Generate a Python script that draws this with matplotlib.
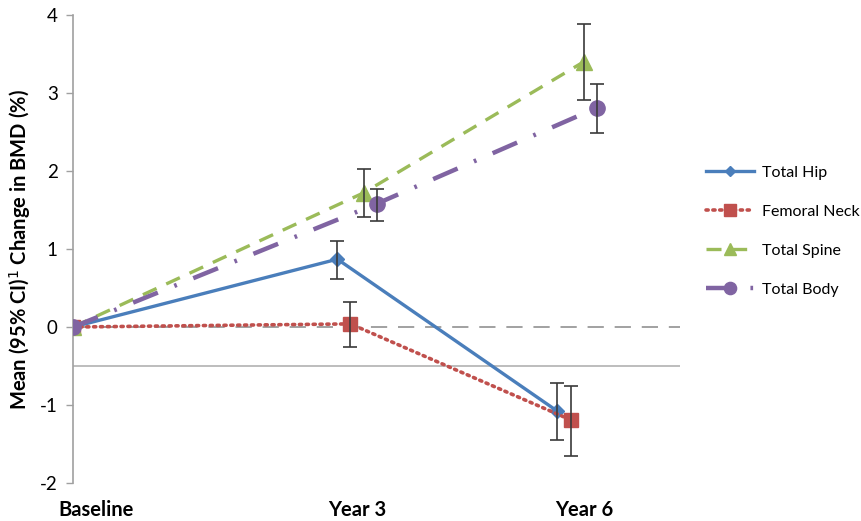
import numpy as np
import matplotlib
matplotlib.use('Agg')
import matplotlib.pyplot as plt

plt.rcParams['font.family'] = ['Lato', 'DejaVu Sans']

# Data
timepoints = ['Baseline', 'Year 3', 'Year 6']
series = ['Total Hip', 'Femoral Neck', 'Total Spine', 'Total Body']

hip_mean = [0.0, 0.87, -1.08]
hip_lo = [0.0, 0.61, -1.45]
hip_hi = [0.0, 1.10, -0.72]

neck_mean = [0.0, 0.04, -1.19]
neck_lo = [0.0, -0.26, -1.65]
neck_hi = [0.0, 0.32, -0.76]

spine_mean = [0.0, 1.72, 3.40]
spine_lo = [0.0, 1.41, 2.91]
spine_hi = [0.0, 2.03, 3.88]

body_mean = [0.0, 1.58, 2.81]
body_lo = [0.0, 1.36, 2.49]
body_hi = [0.0, 1.77, 3.12]

# category positions on the x axis (year 6 sits a bit closer than year 3)
cat_pos = np.array([0.0, 1.0, 1.775])
label_pos = [0.08, 1.0, 1.80]
offsets = [-0.069, -0.023, 0.023, 0.069]

fig = plt.figure(figsize=(8.62, 5.21), dpi=100)
ax = fig.add_axes([0.0847, 0.073, 0.704, 0.898])

colors = ['#4A7EBB', '#C0504D', '#9BBB59', '#8064A2']
styles = [
    dict(ls='-', lw=2.4, marker='D', ms=7),
    dict(ls=(0, (0.6, 1.3)), lw=2.6, marker='s', ms=10, dash_capstyle='round'),
    dict(ls=(0, (4.5, 3.2)), lw=2.4, marker='^', ms=11),
    dict(ls=(0, (6, 4, 0.6, 4)), lw=3.2, marker='o', ms=11),
]
means = [hip_mean, neck_mean, spine_mean, body_mean]
lows = [hip_lo, neck_lo, spine_lo, body_lo]
highs = [hip_hi, neck_hi, spine_hi, body_hi]

# reference lines
ax.axhline(0, color='#9a9a9a', lw=1.3, ls=(0, (9, 6)), zorder=1)
ax.axhline(-0.5, color='#bdbdbd', lw=1.4, zorder=1)

for i in range(4):
    x = cat_pos.copy()
    x[1:] += offsets[i]
    m = np.array(means[i])
    lo = np.array(lows[i])
    hi = np.array(highs[i])
    ax.plot(x, m, color=colors[i], label=series[i], zorder=3,
            markeredgecolor=colors[i], **styles[i])
    ax.errorbar(x[1:], m[1:], yerr=[m[1:] - lo[1:], hi[1:] - m[1:]],
                fmt='none', ecolor='#3a3a3a', elinewidth=1.2, capsize=5,
                capthick=1.2, zorder=4)

ax.set_xlim(0, 2.137)
ax.set_ylim(-2, 4)
ax.set_yticks([-2, -1, 0, 1, 2, 3, 4])
ax.set_yticklabels(['-2', '-1', '0', '1', '2', '3', '4'], fontsize=13.5)
ax.tick_params(axis='y', length=5, width=1, color='#a0a0a0', pad=6)

ax.set_xticks(label_pos)
ax.set_xticklabels(timepoints, fontsize=14.5, fontweight='bold')
ax.tick_params(axis='x', length=0, pad=12)

for s in ['top', 'right', 'bottom']:
    ax.spines[s].set_visible(False)
ax.spines['left'].set_color('#a0a0a0')
ax.spines['left'].set_linewidth(1.2)

ax.set_ylabel('Mean (95% CI)$^1$ Change in BMD (%)', fontsize=14.5,
              fontweight='bold', labelpad=5)

leg = ax.legend(loc='center left', bbox_to_anchor=(1.02, 0.538), frameon=False,
                fontsize=11.5, labelspacing=1.55, handlelength=3.0,
                handletextpad=0.5, markerscale=0.8)

fig.savefig('out.png', dpi=100, facecolor='white')
